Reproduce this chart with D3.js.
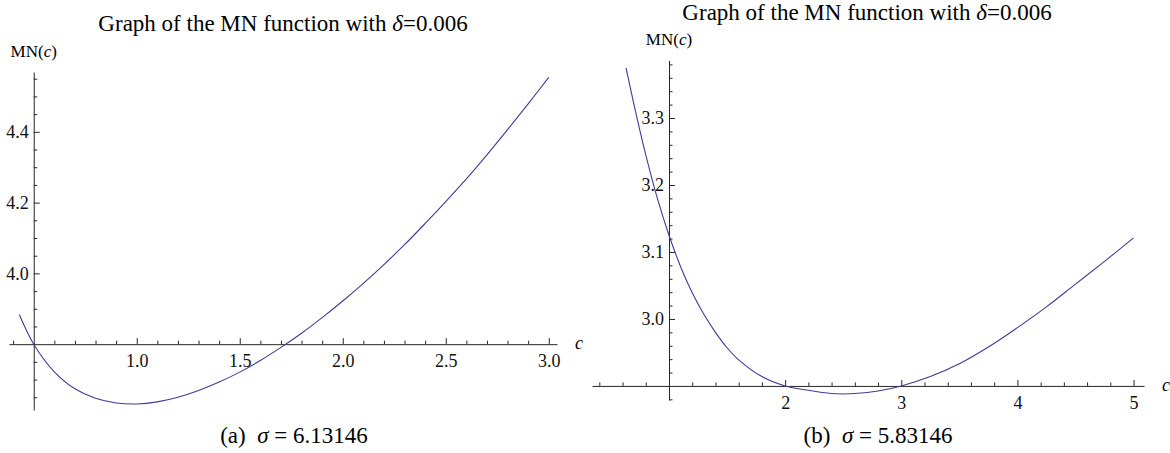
<!DOCTYPE html>
<html>
<head>
<meta charset="utf-8">
<script src="https://cdn.jsdelivr.net/npm/d3@7"></script>
<style>
  body { margin: 0; background: #fff; }
  svg text { font-family: "Liberation Serif", "Times New Roman", serif; }
</style>
</head>
<body>
<svg id="chart" width="1170" height="453"></svg>
<script>
// panel (a): sigma = 6.13146
const cA = [0.43, 0.5, 0.6, 0.7, 0.8, 0.9, 1.0, 1.1, 1.2, 1.3, 1.4, 1.5, 1.6, 1.7, 1.8, 1.9,
            2.0, 2.1, 2.2, 2.3, 2.4, 2.5, 2.6, 2.7, 2.8, 2.9, 3.0];
const mnA = [3.884, 3.800, 3.722, 3.674, 3.647, 3.634, 3.631, 3.637, 3.650, 3.669, 3.693, 3.721,
             3.754, 3.791, 3.831, 3.875, 3.922, 3.972, 4.025, 4.081, 4.141, 4.203, 4.267, 4.335,
             4.406, 4.479, 4.554];
const xTicksA = [1.0, 1.5, 2.0, 2.5, 3.0];
const yTicksA = [4.0, 4.2, 4.4];

// panel (b): sigma = 5.83146
const cB = [0.63, 0.7, 0.8, 0.9, 1.0, 1.1, 1.2, 1.3, 1.4, 1.5, 1.6, 1.8, 2.0, 2.2, 2.4, 2.5,
            2.6, 2.8, 3.0, 3.25, 3.5, 3.75, 4.0, 4.25, 4.5, 4.75, 5.0];
const mnB = [3.375, 3.319, 3.245, 3.180, 3.125, 3.078, 3.039, 3.007, 2.980, 2.957, 2.939, 2.914,
             2.900, 2.8935, 2.8886, 2.888, 2.8886, 2.8925, 2.900, 2.914, 2.933, 2.958, 2.987,
             3.018, 3.052, 3.086, 3.121];
const xTicksB = [2, 3, 4, 5];
const yTicksB = [3.0, 3.1, 3.2, 3.3];

const titleText = "Graph of the MN function with ";
const lineColor = "#3d3d99";
const axisColor = "#262626";
const serif = "'Liberation Serif', 'Times New Roman', serif";

const svg = d3.select("#chart");

function drawPanel(p) {
  let x = d3.scaleLinear().domain(p.xDomain).range(p.xRange);
  let y = d3.scaleLinear().domain(p.yDomain).range(p.yRange);
  let g = svg.append("g");

  let x0 = x(p.origin[0]);
  let y0 = y(p.origin[1]);

  // minor ticks first, so the major axis sits on top
  let near = (v, list) => list.some(t => Math.abs(t - v) < 1e-6);
  let xMinor = d3.range(p.xMinor[0], p.xMinor[1] + 1e-9, p.xMinor[2])
    .filter(v => !near(+v.toFixed(4), p.xTicks) && Math.abs(v - p.origin[0]) > 1e-6);
  let yMinor = d3.range(p.yMinor[0], p.yMinor[1] + 1e-9, p.yMinor[2])
    .filter(v => !near(+v.toFixed(4), p.yTicks) && Math.abs(v - p.origin[1]) > 1e-6);

  g.append("g")
    .attr("transform", "translate(0," + y0 + ")")
    .call(d3.axisBottom(x).tickValues(xMinor).tickSizeInner(-3.5).tickSizeOuter(0).tickFormat(""))
    .call(a => a.select(".domain").remove());
  g.append("g")
    .attr("transform", "translate(" + x0 + ",0)")
    .call(d3.axisLeft(y).tickValues(yMinor).tickSizeInner(-3.5).tickSizeOuter(0).tickFormat(""))
    .call(a => a.select(".domain").remove());

  let gx = g.append("g")
    .attr("transform", "translate(0," + y0 + ")")
    .call(d3.axisBottom(x).tickValues(p.xTicks).tickSizeInner(-6).tickSizeOuter(0)
      .tickPadding(10).tickFormat(d3.format(p.xFormat)));
  let gy = g.append("g")
    .attr("transform", "translate(" + x0 + ",0)")
    .call(d3.axisLeft(y).tickValues(p.yTicks).tickSizeInner(-6).tickSizeOuter(0)
      .tickPadding(5).tickFormat(d3.format(p.yFormat)));

  g.selectAll("line, path.domain").attr("stroke", axisColor).attr("stroke-width", 1);
  [gx, gy].forEach(a => a.attr("font-family", serif).attr("font-size", 18));
  g.selectAll("text").attr("fill", "#111");

  // axis labels
  let yl = g.append("text")
    .attr("x", x0).attr("y", p.yLabelY)
    .attr("text-anchor", "middle").attr("font-size", 17);
  yl.append("tspan").text("MN(");
  yl.append("tspan").attr("font-style", "italic").text("c");
  yl.append("tspan").text(")");

  g.append("text")
    .attr("x", p.xRange[1] + 18).attr("y", y0 + 5)
    .attr("font-size", 18).attr("font-style", "italic")
    .text("c");

  // curve
  let line = d3.line()
    .x((d, i) => x(p.c[i]))
    .y(d => y(d))
    .curve(d3.curveCatmullRom);
  g.append("path")
    .datum(p.mn)
    .attr("fill", "none")
    .attr("stroke", lineColor)
    .attr("stroke-width", 1.1)
    .attr("d", line);

  // title
  let t = g.append("text")
    .attr("x", p.titleX).attr("y", p.titleY)
    .attr("text-anchor", "middle").attr("font-size", 23);
  t.append("tspan").text(titleText);
  t.append("tspan").attr("font-style", "italic").text("δ");
  t.append("tspan").text("=0.006");

  // caption
  let cap = g.append("text")
    .attr("x", p.capX).attr("y", 443)
    .attr("text-anchor", "middle").attr("font-size", 23)
    .attr("xml:space", "preserve");
  cap.append("tspan").text(p.capTag + "  ");
  cap.append("tspan").attr("font-style", "italic").text("σ");
  cap.append("tspan").text(" = " + p.capVal);
}

drawPanel({
  c: cA, mn: mnA,
  xDomain: [0.38, 3.04], xRange: [9, 557],
  yDomain: [3.614, 4.569], yRange: [410, 72],
  origin: [0.5, 3.8],
  xTicks: xTicksA, yTicks: yTicksA,
  xMinor: [0.4, 3.0, 0.1], yMinor: [3.65, 4.55, 0.05],
  xFormat: ".1f", yFormat: ".1f",
  yLabelY: 57,
  titleX: 283, titleY: 31,
  capX: 294, capTag: "(a)", capVal: "6.13146"
});

drawPanel({
  c: cB, mn: mnB,
  xDomain: [0.337, 5.09], xRange: [592, 1144],
  yDomain: [2.879, 3.386], yRange: [400, 60.4],
  origin: [1, 2.9],
  xTicks: xTicksB, yTicks: yTicksB,
  xMinor: [0.4, 4.8, 0.2], yMinor: [2.88, 3.38, 0.02],
  xFormat: "d", yFormat: ".1f",
  yLabelY: 45,
  titleX: 867, titleY: 20,
  capX: 878, capTag: "(b)", capVal: "5.83146"
});
</script>
</body>
</html>
